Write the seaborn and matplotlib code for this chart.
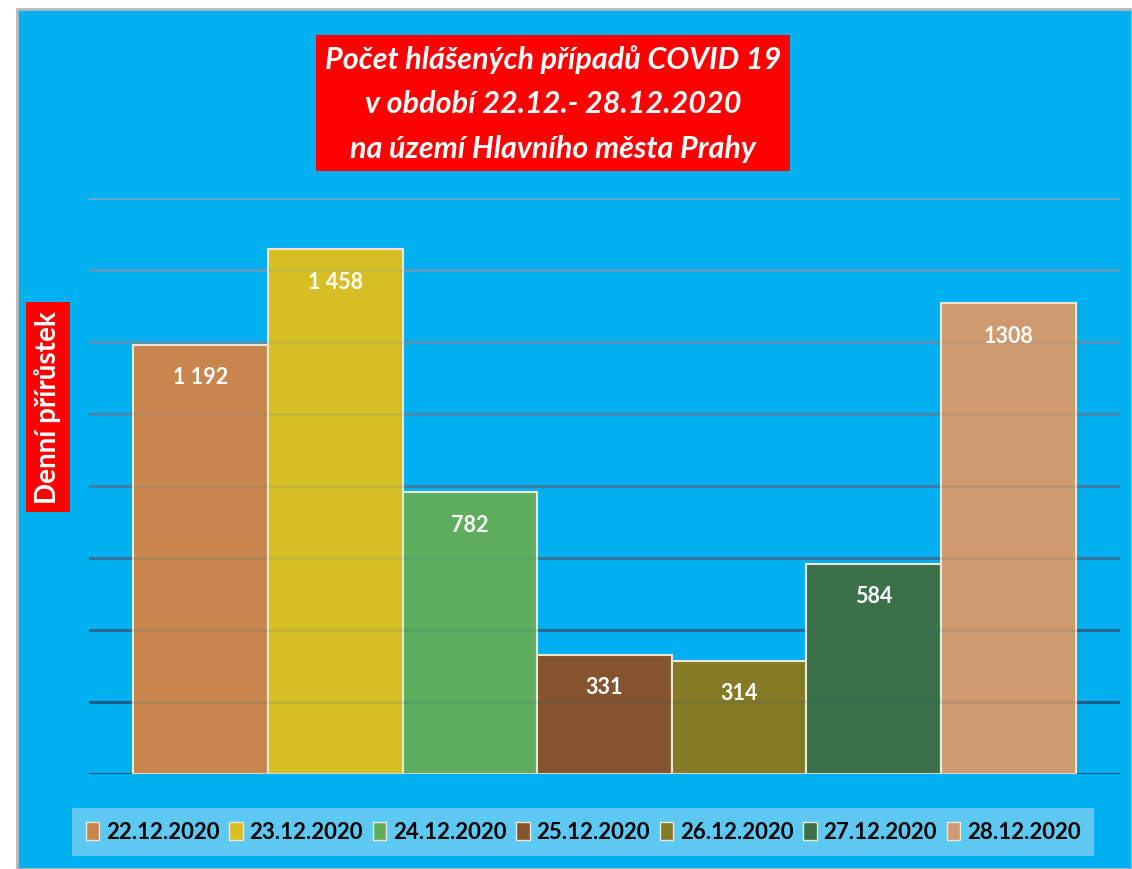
import numpy as np
import pandas as pd
import seaborn as sns
import matplotlib.pyplot as plt
from matplotlib.patches import Patch, Rectangle

dates = ['22.12.2020', '23.12.2020', '24.12.2020', '25.12.2020',
         '26.12.2020', '27.12.2020', '28.12.2020']
cases = [1192, 1458, 782, 331, 314, 584, 1308]
value_labels = ['1 192', '1 458', '782', '331', '314', '584', '1308']
bar_colors = ['#C9854E', '#D8BE25', '#5FAD5F', '#84542E',
              '#857A25', '#3A7148', '#CF9A6F']
title_lines = ['Počet hlášených případů COVID 19',
               'v období 22.12.- 28.12.2020',
               'na území Hlavního města Prahy']
ylabel = 'Denní přírůstek'
grid_values = [0, 200, 400, 600, 800, 1000, 1200, 1400, 1600]

BLUE = '#00B0F0'
FONT = ['Lato', 'DejaVu Sans']

sns.set_theme(style='white')
plt.rcParams['font.family'] = FONT

df = pd.DataFrame({'date': dates, 'cases': cases})

fig = plt.figure(figsize=(11.32, 8.7), dpi=100, facecolor='white')
# blue chart area with a thin grey frame (behind the axes)
fig.patches.append(Rectangle((17 / 1132, 0), 1 - 17 / 1132, 1 - 10 / 870,
                             transform=fig.transFigure, facecolor=BLUE,
                             edgecolor='#B8B8B8', linewidth=2, zorder=-5))

ax = fig.add_axes([89 / 1132, 95 / 870, 1031 / 1132, 576 / 870])
ax.set_facecolor('none')

# gridlines get darker toward the bottom; a faint copy shows through the bars
for i, gv in enumerate(grid_values):
    t = i / (len(grid_values) - 1)
    col = np.array([0.10, 0.33, 0.50]) * (1 - t) + np.array([0.38, 0.66, 0.80]) * t
    ax.axhline(gv, color=col, linewidth=2.2, zorder=1)
    ax.axhline(gv, color=col, linewidth=2.2, alpha=0.12, zorder=3)

sns.barplot(data=df, x='date', y='cases', hue='date', palette=bar_colors,
            width=1.0, dodge=False, legend=False, ax=ax, saturation=1,
            edgecolor='#EFE6D6', linewidth=1.5, zorder=2)

for i, (v, lab) in enumerate(zip(cases, value_labels)):
    ax.annotate(lab, (i, v), xytext=(0, -23), textcoords='offset points',
                ha='center', va='center', color='white', fontsize=15.5,
                fontweight='bold', zorder=4)

ax.set_xlim(-0.83, 6.83)
ax.set_ylim(0, 1600)
ax.set_xticks([])
ax.set_yticks([])
ax.set_xlabel('')
ax.set_ylabel('')
for s in ax.spines.values():
    s.set_visible(False)

# title in a red box
fig.text(553 / 1132, 1 - 104 / 870, '\n'.join(title_lines), ha='center',
         va='center', color='white', fontsize=22, fontweight='bold',
         fontstyle='italic', linespacing=1.7,
         bbox=dict(boxstyle='square,pad=0.3', facecolor='#FF0000',
                   edgecolor='none'))

fig.text(48 / 1132, 1 - 408 / 870, ylabel, rotation=90, ha='center',
         va='center', color='white', fontsize=20, fontweight='bold',
         bbox=dict(boxstyle='square,pad=0.3', facecolor='#FF0000',
                   edgecolor='none'))

handles = [Patch(facecolor=c, edgecolor='#EFE6D6', linewidth=1)
           for c in bar_colors]
leg = fig.legend(handles, dates, loc='center', ncol=7,
                 bbox_to_anchor=(583 / 1132, 1 - 833 / 870),
                 frameon=True, fancybox=False, facecolor='#5DC9F2',
                 edgecolor='none', framealpha=1,
                 handlelength=0.6, handleheight=0.85, handletextpad=0.3,
                 columnspacing=0.45, borderpad=0.6,
                 prop={'family': FONT, 'weight': 'bold', 'size': 16})
for t in leg.get_texts():
    t.set_color('black')

fig.savefig('out.png', dpi=100, facecolor=fig.get_facecolor())
